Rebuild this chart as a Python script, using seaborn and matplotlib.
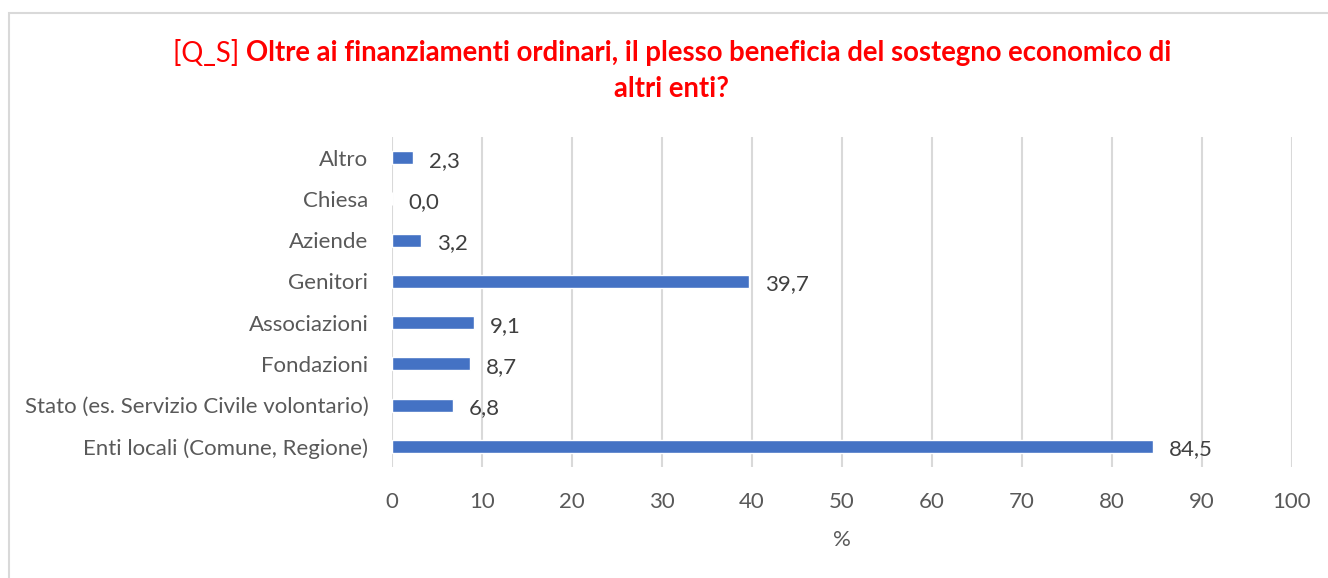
import matplotlib
matplotlib.use("Agg")
import matplotlib.pyplot as plt
import seaborn as sns
import pandas as pd
from matplotlib.patches import Rectangle

# Survey answers, top to bottom as shown on the chart
categories = [
    "Altro",
    "Chiesa",
    "Aziende",
    "Genitori",
    "Associazioni",
    "Fondazioni",
    "Stato (es. Servizio Civile volontario)",
    "Enti locali (Comune, Regione)",
]
percentages = [2.3, 0.0, 3.2, 39.7, 9.1, 8.7, 6.8, 84.5]
x_ticks = [0, 10, 20, 30, 40, 50, 60, 70, 80, 90, 100]

title_prefix = "[Q_S] "
title_line1 = "Oltre ai finanziamenti ordinari, il plesso beneficia del sostegno economico di"
title_line2 = "altri enti?"
x_label = "%"

BAR = "#4472C4"
TEXT = "#595959"
LABEL = "#404040"
GRID = "#D9D9D9"
RED = "#FF0000"
FS = 16
TFS = 19.8

sns.set_theme(style="white")
plt.rcParams["font.family"] = ["Lato", "DejaVu Sans"]

df = pd.DataFrame({"categoria": categories, "valore": percentages})

fig = plt.figure(figsize=(13.28, 5.78), dpi=100)
ax = fig.add_axes([392 / 1328, 1 - 467 / 578, 900 / 1328, 330 / 578])

sns.barplot(data=df, x="valore", y="categoria", orient="h", color=BAR,
            width=0.32, saturation=1, ax=ax, zorder=3)

ax.set_xlim(0, 100)
ax.set_xticks(x_ticks)
ax.set_xticklabels([str(t) for t in x_ticks])
ax.xaxis.grid(True, color=GRID, linewidth=1.5, zorder=0)
ax.yaxis.grid(False)
for s in ax.spines.values():
    s.set_visible(False)
ax.tick_params(axis="x", length=0, pad=18, labelsize=FS, labelcolor=TEXT)
ax.tick_params(axis="y", length=0, pad=17, labelsize=FS, labelcolor=TEXT)
ax.set_ylabel("")
ax.set_xlabel(x_label, fontsize=FS, color=TEXT, labelpad=13)

# Value labels next to each bar
for i, v in enumerate(percentages):
    ax.annotate(f"{v:.1f}".replace(".", ","), xy=(v, i), xytext=(16, -3),
                textcoords="offset pixels",
                ha="left", va="center", fontsize=FS, color=LABEL)

# Light frame around the chart area
fig.patches.append(Rectangle((9 / 1328, -0.05), 1.2, 1 - 13 / 578 + 0.05,
                             transform=fig.transFigure, fill=False,
                             edgecolor="#D9D9D9", linewidth=1.5))

# Two-line title: a regular prefix followed by bold text, centred as a whole
cx = 672 / 1328
y1 = 1 - 53 / 578
y2 = 1 - 89 / 578
fig.canvas.draw()
r = fig.canvas.get_renderer()
t_pre = fig.text(0, y1, title_prefix, fontsize=TFS, color=RED, va="center", ha="left")
t_main = fig.text(0, y1, title_line1, fontsize=TFS, color=RED, weight="bold",
                  va="center", ha="left")
w_pre = t_pre.get_window_extent(r).width
w_main = t_main.get_window_extent(r).width
x0 = cx * 1328 - (w_pre + w_main) / 2
t_pre.set_x(x0 / 1328)
t_main.set_x((x0 + w_pre) / 1328)
fig.text(cx, y2, title_line2, fontsize=TFS, color=RED, weight="bold",
         va="center", ha="center")

fig.savefig("out.png", dpi=100)
